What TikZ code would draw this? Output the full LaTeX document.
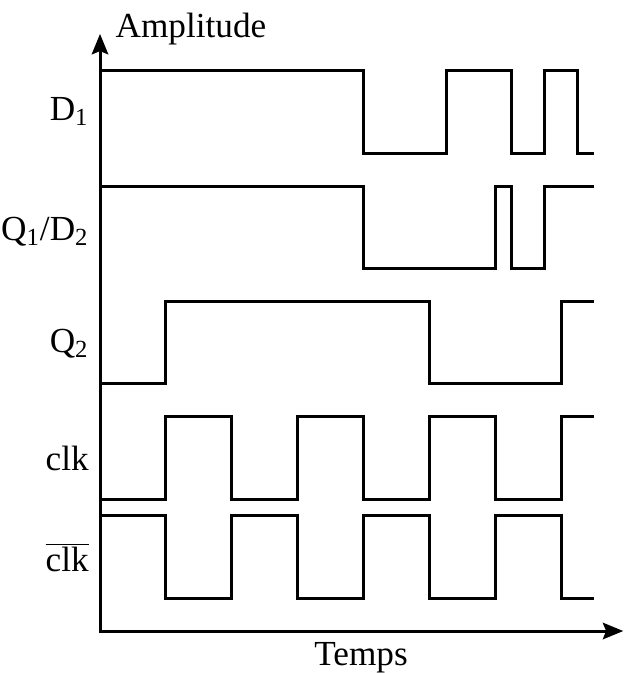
\documentclass[tikz,border=0pt]{standalone}
\usepackage{fontspec}
\setmainfont{Liberation Serif}
\usetikzlibrary{arrows.meta}

\begin{document}
\begin{tikzpicture}[>={Stealth[length=0.31cm, width=0.25cm, inset=0.05cm]},
    sig/.style={line width=1.3pt},
    lbl/.style={anchor=base east, inner sep=0pt},
    font=\fontsize{15.2}{18}\selectfont]
  \useasboundingbox (-1.5175,-0.637) rectangle (7.951,9.575);
  % Axes
  \coordinate (O) at (0,0);
  \coordinate (ytop) at (0,9.06);
  \coordinate (xend) at (7.94,0);
  \draw[sig, <->] (ytop) -- (O) -- (xend);
  \node[anchor=base west, inner sep=0pt] (amp) at (0.23,9.01) {Amplitude};
  \node[anchor=base, inner sep=0pt] (temps) at (3.96,-0.53) {Temps};

  % D1
  \draw[sig] (0,8.5) -| (4,7.25) -| (5.25,8.5) -| (6.25,7.25)
    -| (6.75,8.5) -| (7.25,7.25) -- (7.5,7.25);
  \node[lbl] (lD1) at (-0.165,7.74) {D\textsubscript{1}};

  % Q1/D2
  \draw[sig] (0,6.75) -| (4,5.5) -| (6,6.75) -| (6.25,5.5)
    -| (6.75,6.75) -- (7.5,6.75);
  \node[lbl] (lQ1) at (-0.165,5.92) {Q\textsubscript{1}/D\textsubscript{2}};

  % Q2
  \draw[sig] (0,3.75) -| (1,5) -| (5,3.75) -| (7,5) -- (7.5,5);
  \node[lbl] (lQ2) at (-0.165,4.23) {Q\textsubscript{2}};

  % clock and its complement
  \draw[sig] (0,2) -| (1,3.25) -| (2,2) -| (3,3.25) -| (4,2)
    -| (5,3.25) -| (6,2) -| (7,3.25) -- (7.5,3.25);
  \node[lbl] (lclk) at (-0.165,2.44) {clk};
  \draw[sig] (0,1.75) -| (1,0.5) -| (2,1.75) -| (3,0.5) -| (4,1.75)
    -| (5,0.5) -| (6,1.75) -| (7,0.5) -- (7.5,0.5);
  \node[lbl] (lclkb) at (-0.165,0.9) {$\overline{\mbox{clk}}$};
\end{tikzpicture}
\end{document}
